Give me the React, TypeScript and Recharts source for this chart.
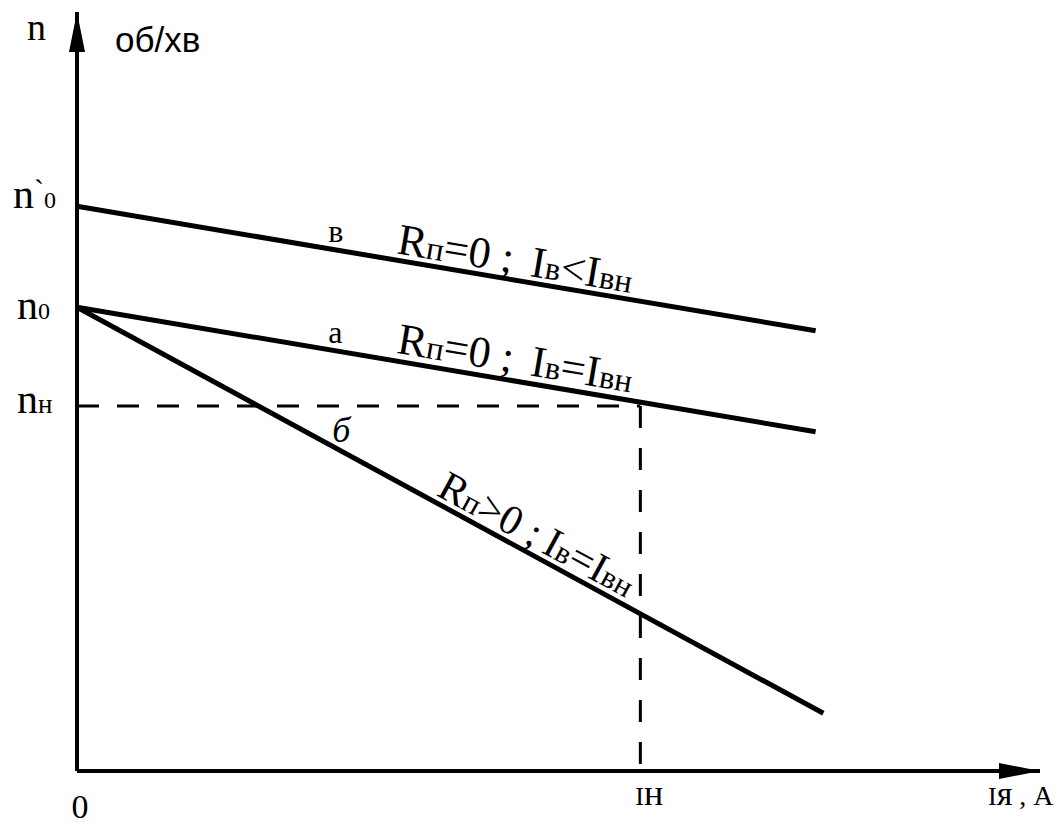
import React from "react";
import { ComposedChart, Line, XAxis, YAxis, ReferenceLine, ReferenceDot } from "recharts";

// armature current (relative units) and its axis labels
const currentTicks = [0, 58.5, 100];
const currentTickLabels = ["0", "Iн", "Iя , A"];

// speed marks on the vertical axis
const speedTicks = [74.4, 61.1, 48.1];
const speedTickLabels = ["n`0", "n0", "nн"];

// rated operating point
const ratedCurrent = 58.5;
const ratedSpeed = 48.1;

// speed characteristics, straight lines through two points
const curveV = [
  { i: 0, n: 74.4 },
  { i: 76.7, n: 58.0 },
];
const curveA = [
  { i: 0, n: 61.1 },
  { i: 76.7, n: 44.7 },
];
const curveB = [
  { i: 0, n: 61.1 },
  { i: 77.5, n: 7.6 },
];

const SERIF = "'Liberation Serif', 'Times New Roman', serif";
const SANS = "'Liberation Sans', Arial, sans-serif";

const SpeedTick = (props: any) => {
  const { x, y, payload } = props;
  const label = speedTickLabels[speedTicks.indexOf(payload.value)];
  if (!label) return null;
  if (label === "n`0") {
    return (
      <text x={x - 64} y={y + 2} fontFamily={SERIF} fontSize={42} fill="#000">
        n
        <tspan fontSize={30} dy={-8}>`</tspan>
        <tspan fontSize={24} dy={8}>0</tspan>
      </text>
    );
  }
  return (
    <text x={x - 60} y={y + (label === "n0" ? 12 : 7)} fontFamily={SERIF} fontSize={42} fill="#000">
      n<tspan fontSize={label === "n0" ? 24 : 27}>{label.slice(1)}</tspan>
    </text>
  );
};

const CurrentTick = (props: any) => {
  const { x, y, payload } = props;
  const label = currentTickLabels[currentTicks.indexOf(payload.value)];
  if (label === "0") {
    return (
      <text x={x + 3} y={y + 47} textAnchor="middle" fontFamily={SERIF} fontSize={34} fill="#000">
        0
      </text>
    );
  }
  if (label === "Iн") {
    return (
      <text x={x - 5} y={y + 34} fontFamily={SERIF} fontSize={26} fill="#000">
        I<tspan fontSize={36}>н</tspan>
      </text>
    );
  }
  if (label === "Iя , A") {
    return (
      <text x={x - 52} y={y + 34} fontFamily={SERIF} fontSize={26} fill="#000">
        I<tspan fontSize={34}>я</tspan>
        <tspan fontSize={28}> , A</tspan>
      </text>
    );
  }
  return null;
};

// arrow on the speed axis together with the axis caption
const SpeedArrow = (props: any) => {
  const { cx, cy } = props;
  return (
    <g>
      <polygon points={`${cx},${cy} ${cx - 8},${cy + 40} ${cx + 8},${cy + 40}`} fill="#000" />
      <text x={cx - 50} y={cy + 28} fontFamily={SERIF} fontSize={38} fill="#000">
        n
      </text>
      <text x={cx + 38} y={cy + 40} fontFamily={SANS} fontSize={35} fill="#000">
        об/хв
      </text>
    </g>
  );
};

const CurrentArrow = (props: any) => {
  const { cx, cy } = props;
  return <polygon points={`${cx},${cy} ${cx - 41},${cy - 8} ${cx - 41},${cy + 8}`} fill="#000" />;
};

// [text, subscript, extra gap before]
type Part = [string, boolean, number];

const formulaV: Part[] = [["R", false, 0], ["п", true, 0], ["=0 ;", false, 0], ["I", false, 18], ["в", true, 0], ["<I", false, 0], ["вн", true, 0]];
const formulaA: Part[] = [["R", false, 0], ["п", true, 0], ["=0 ;", false, 0], ["I", false, 18], ["в", true, 0], ["=I", false, 0], ["вн", true, 0]];
const formulaB: Part[] = [["R", false, 0], ["п", true, 0], [">0 ;", false, 0], ["I", false, 8], ["в", true, 0], ["=I", false, 0], ["вн", true, 0]];

const formulaShape = (parts: Part[], angle: number, size: number) => (props: any) => {
  const { cx, cy } = props;
  return (
    <text x={cx} y={cy} transform={`rotate(${angle} ${cx} ${cy})`} fontFamily={SERIF} fontSize={size} fill="#000">
      {parts.map(([t, sub, gap], k) => (
        <tspan key={k} dx={gap || undefined} fontSize={sub ? Math.round(size * 0.74) : size}>
          {t}
        </tspan>
      ))}
    </text>
  );
};

const letterShape = (letter: string, size: number, italic: boolean) => (props: any) => (
  <text x={props.cx} y={props.cy} fontFamily={SERIF} fontSize={size} fontStyle={italic ? "italic" : "normal"} fill="#000">
    {letter}
  </text>
);

export default function App() {
  return (
    <div style={{ position: "absolute", left: 0, top: 0, background: "#fff" }}>
      <ComposedChart width={1063} height={828} margin={{ top: 12, right: 23, bottom: 17, left: 7 }}>
        <XAxis
          type="number"
          dataKey="i"
          domain={[0, 100]}
          ticks={currentTicks}
          interval={0}
          height={40}
          tickSize={0}
          tickMargin={0}
          tickLine={false}
          axisLine={{ stroke: "#000", strokeWidth: 4 }}
          tick={<CurrentTick />}
        />
        <YAxis
          type="number"
          dataKey="n"
          domain={[0, 100]}
          ticks={speedTicks}
          interval={0}
          width={70}
          tickSize={0}
          tickMargin={0}
          tickLine={false}
          axisLine={{ stroke: "#000", strokeWidth: 4 }}
          tick={<SpeedTick />}
        />

        <ReferenceLine
          segment={[
            { x: 0, y: ratedSpeed },
            { x: ratedCurrent, y: ratedSpeed },
          ]}
          stroke="#000"
          strokeWidth={3}
          strokeDasharray="22 18"
        />
        <ReferenceLine
          segment={[
            { x: ratedCurrent, y: ratedSpeed },
            { x: ratedCurrent, y: 0 },
          ]}
          stroke="#000"
          strokeWidth={3}
          strokeDasharray="22 20"
        />

        <Line data={curveV} dataKey="n" stroke="#000" strokeWidth={5} dot={false} isAnimationActive={false} />
        <Line data={curveA} dataKey="n" stroke="#000" strokeWidth={5} dot={false} isAnimationActive={false} />
        <Line data={curveB} dataKey="n" stroke="#000" strokeWidth={5} dot={false} isAnimationActive={false} />

        <ReferenceDot x={0} y={100} ifOverflow="visible" shape={SpeedArrow} />
        <ReferenceDot x={100} y={0} ifOverflow="visible" shape={CurrentArrow} />

        <ReferenceDot x={26.1} y={69.7} ifOverflow="visible" shape={letterShape("в", 32, false)} />
        <ReferenceDot x={26.1} y={56.4} ifOverflow="visible" shape={letterShape("а", 32, false)} />
        <ReferenceDot x={26.5} y={43.3} ifOverflow="visible" shape={letterShape("б", 36, true)} />

        <ReferenceDot x={33.1} y={68.2} ifOverflow="visible" shape={formulaShape(formulaV, 9.6, 44)} />
        <ReferenceDot x={33.1} y={55.1} ifOverflow="visible" shape={formulaShape(formulaA, 9.6, 44)} />
        <ReferenceDot x={37.2} y={36.4} ifOverflow="visible" shape={formulaShape(formulaB, 28.5, 42)} />
      </ComposedChart>
    </div>
  );
}
